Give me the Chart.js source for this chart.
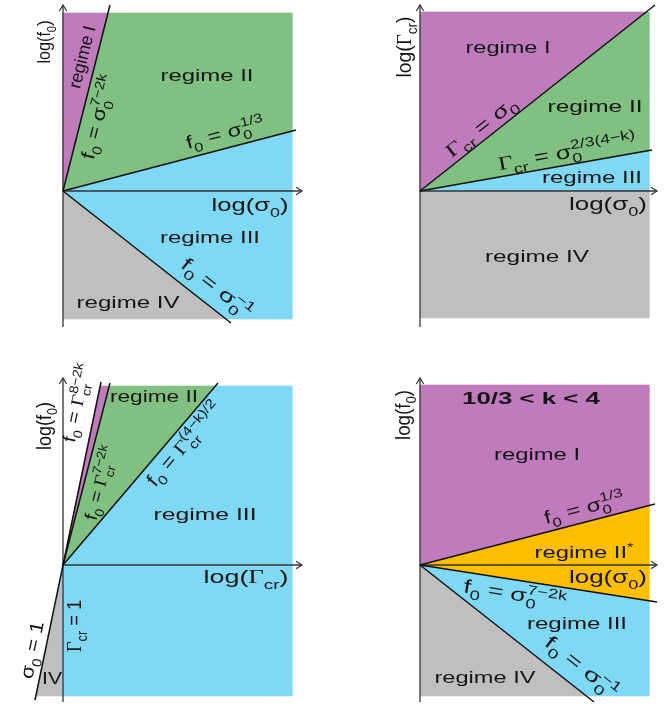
<!DOCTYPE html>
<html>
<head>
<meta charset="utf-8">
<script src="https://cdn.jsdelivr.net/npm/chart.js@4.4.0/dist/chart.umd.min.js"></script>
<style>
html, body { margin: 0; padding: 0; background: #fff; }
#wrap { position: relative; width: 664px; height: 708px; }
canvas { position: absolute; }
</style>
</head>
<body>
<div id="wrap">
  <canvas id="tl" width="332" height="350" style="left:0;top:0"></canvas>
  <canvas id="tr" width="332" height="350" style="left:332px;top:0"></canvas>
  <canvas id="bl" width="332" height="358" style="left:0;top:350px"></canvas>
  <canvas id="br" width="332" height="358" style="left:332px;top:350px"></canvas>
</div>
<script>
const PURPLE = '#bf7bbc', GREEN = '#80c080', CYAN = '#80d9f4', GREY = '#bfbfbf', ORANGE = '#ffbf00';

// all points in schematic log units, origin = axes crossing

// TOP LEFT : log(f0) vs log(sigma0)
const tlPurple = [[0,0],[0,178],[45,178]];
const tlGreen  = [[0,0],[45,178],[229,178],[229,60]];
const tlCyan   = [[0,0],[229,60],[229,-128],[163,-128]];
const tlGrey   = [[0,0],[163,-128],[0,-128]];
const tlLines  = [[[0,0],[47,186]], [[0,0],[233,61]], [[0,0],[168,-132]]];
const tlAxes   = [[[0,-136],[0,186]], [[0,0],[239,0]]];

// TOP RIGHT : log(Gamma_cr) vs log(sigma0)
const trPurple = [[0,0],[0,179],[226,179]];
const trGreen  = [[0,0],[226,179],[229,179],[229,40]];
const trCyan   = [[0,0],[229,40],[229,0]];
const trGrey   = [[0,0],[229,0],[229,-127],[0,-127]];
const trLines  = [[[0,0],[235,186]], [[0,0],[232,41]]];
const trAxes   = [[[0,-136],[0,186]], [[0,0],[237,0]]];

// BOTTOM LEFT : log(f0) vs log(Gamma_cr)
const blPurple = [[0,0],[37,179],[46,179]];
const blGreen  = [[0,0],[46,179],[152,179]];
const blCyan   = [[0,0],[152,179],[229,179],[229,-131],[0,-131]];
const blGrey   = [[0,0],[0,-131],[-27,-131]];
const blLines  = [[[-28,-135],[38,183]], [[0,0],[47,182]], [[0,0],[155,182]]];
const blAxes   = [[[0,-137],[0,187]], [[0,0],[239,0]]];

// BOTTOM RIGHT : 10/3 < k < 4
const brPurple = [[0,0],[0,180],[229,180],[229,59]];
const brOrange = [[0,0],[229,59],[229,-36]];
const brCyan   = [[0,0],[229,-36],[229,-131],[166,-131]];
const brGrey   = [[0,0],[166,-131],[0,-131]];
const brLines  = [[[0,0],[235,61]], [[0,0],[237,-37]], [[0,0],[174,-137]]];
const brAxes   = [[[0,-137],[0,187]], [[0,0],[237,0]]];

const pts = a => a.map(([x, y]) => ({x, y}));
const FAM = '"Liberation Sans", Arial, sans-serif';

// tiny parser: _{..} subscript, ^{..} superscript (stacked over a subscript)
function richTokens(s) {
  const out = [];
  let i = 0, buf = '';
  const flush = () => { if (buf) { out.push({t: buf, k: 'n'}); buf = ''; } };
  while (i < s.length) {
    const c = s[i];
    if ((c === '_' || c === '^') && s[i + 1] === '{') {
      flush();
      const j = s.indexOf('}', i);
      out.push({t: s.slice(i + 2, j), k: c === '_' ? 'b' : 'p'});
      i = j + 1;
    } else if (c === 'Γ') {
      flush();
      out.push({t: c, k: 'n', serif: true});
      i++;
    } else { buf += c; i++; }
  }
  flush();
  return out;
}

function drawLabel(ctx, L, px, py, ang) {
  const toks = richTokens(L.s);
  const fontFor = tk => (L.bold ? 'bold ' : '') + (tk.k === 'n' ? L.size : L.size * 0.7) + 'px ' +
    (tk.serif ? '"Liberation Serif", serif' : FAM);
  let x = 0, sub = null;
  const placed = [];
  for (const tk of toks) {
    ctx.font = fontFor(tk);
    const w = ctx.measureText(tk.t).width;
    if (tk.k === 'p' && sub) {
      placed.push({tk, x: sub.x, dy: -0.42 * L.size});
      x = sub.x + Math.max(sub.w, w);
      sub = null;
    } else if (tk.k === 'b') {
      placed.push({tk, x, dy: 0.3 * L.size});
      sub = {x, w};
      x += w;
    } else {
      placed.push({tk, x, dy: tk.k === 'p' ? -0.42 * L.size : 0});
      sub = null;
      x += w;
    }
  }
  const total = x;
  ctx.save();
  ctx.translate(px, py);
  ctx.rotate(ang);
  ctx.scale(L.len ? L.len / total : 1, 1);
  ctx.fillStyle = '#151515';
  ctx.textBaseline = 'alphabetic';
  ctx.textAlign = 'left';
  const base = L.base ? 0 : 0.33 * L.size;
  for (const p of placed) {
    ctx.font = fontFor(p.tk);
    ctx.fillText(p.tk.t, p.x - total / 2, p.dy + base);
  }
  ctx.restore();
}

function makePanel(id, view, regions, lines, axes, labels) {
  const datasets = [];
  regions.forEach(([poly, color]) => datasets.push({
    data: pts(poly), fill: 'shape', backgroundColor: color,
    borderColor: color, borderWidth: 0.6, pointRadius: 0, order: 5
  }));
  axes.forEach(a => datasets.push({
    data: pts(a), fill: false, borderColor: '#333', borderWidth: 1.3, pointRadius: 0, order: 2
  }));
  lines.forEach(l => datasets.push({
    data: pts(l), fill: false, borderColor: '#111', borderWidth: 1.5, pointRadius: 0, order: 1
  }));

  const decor = {
    id: 'decor',
    afterDatasetsDraw(chart) {
      const {ctx, scales: {x: sx, y: sy}} = chart;
      const P = ([a, b]) => [sx.getPixelForValue(a), sy.getPixelForValue(b)];
      // arrow heads
      ctx.save();
      ctx.strokeStyle = '#333';
      ctx.lineWidth = 1.2;
      axes.forEach(a => {
        const [x0, y0] = P(a[0]), [x1, y1] = P(a[1]);
        const t = Math.atan2(y1 - y0, x1 - x0);
        ctx.beginPath();
        ctx.moveTo(x1 - 7 * Math.cos(t - 0.55), y1 - 7 * Math.sin(t - 0.55));
        ctx.lineTo(x1, y1);
        ctx.lineTo(x1 - 7 * Math.cos(t + 0.55), y1 - 7 * Math.sin(t + 0.55));
        ctx.stroke();
      });
      ctx.restore();
      labels.forEach(L => {
        const [px, py] = P([L.x, L.y]);
        let ang = (L.ang || 0) * Math.PI / 180;
        if (L.line !== undefined) {
          const [x0, y0] = P(lines[L.line][0]), [x1, y1] = P(lines[L.line][1]);
          ang = Math.atan2(y1 - y0, x1 - x0);
        }
        drawLabel(ctx, L, px, py, ang);
      });
    }
  };

  return new Chart(document.getElementById(id), {
    type: 'line',
    data: {datasets},
    options: {
      responsive: false,
      animation: false,
      events: [],
      layout: {padding: 0},
      elements: {line: {tension: 0}, point: {radius: 0}},
      scales: {
        x: {type: 'linear', display: false, min: view[0], max: view[1]},
        y: {type: 'linear', display: false, min: view[2], max: view[3]}
      },
      plugins: {legend: {display: false}, tooltip: {enabled: false}}
    },
    plugins: [decor]
  });
}

makePanel('tl', [-63, 269, -159, 191],
  [[tlPurple, PURPLE], [tlGreen, GREEN], [tlCyan, CYAN], [tlGrey, GREY]],
  tlLines, tlAxes, [
    {s: 'log(f_{0})', x: -19, y: 149, size: 19, len: 43, ang: -90},
    {s: 'regime I', x: 19, y: 134, size: 18, len: 64, line: 0},
    {s: 'f_{0} = σ_{0}^{7−2k}', x: 35, y: 74, size: 19, len: 86, line: 0},
    {s: 'regime II', x: 144, y: 110, size: 16, len: 93, base: true},
    {s: 'f_{0} = σ_{0}^{1/3}', x: 162, y: 58, size: 18, len: 80, line: 1},
    {s: 'log(σ_{0})', x: 187, y: -20, size: 19, len: 77, base: true},
    {s: 'regime III', x: 147, y: -52, size: 16, len: 100, base: true},
    {s: 'f_{0} = σ_{0}^{−1}', x: 154, y: -97, size: 19, len: 85, line: 2},
    {s: 'regime IV', x: 65, y: -117, size: 16, len: 103, base: true}
  ]);

makePanel('tr', [-88, 244, -159, 191],
  [[trPurple, PURPLE], [trGreen, GREEN], [trCyan, CYAN], [trGrey, GREY]],
  trLines, trAxes, [
    {s: 'log(Γ_{cr})', x: -16, y: 144, size: 20, len: 61, ang: -90},
    {s: 'regime I', x: 88, y: 138, size: 16, len: 85, base: true},
    {s: 'regime II', x: 175, y: 79, size: 16, len: 95, base: true},
    {s: 'Γ_{cr} = σ_{0}', x: 61, y: 64, size: 19, len: 85, line: 0},
    {s: 'Γ_{cr} = σ_{0}^{2/3(4−k)}', x: 147, y: 39, size: 19, len: 140, line: 1},
    {s: 'regime III', x: 172, y: 8, size: 16, len: 100, base: true},
    {s: 'log(σ_{0})', x: 188, y: -19, size: 19, len: 78, base: true},
    {s: 'regime IV', x: 117, y: -71, size: 16, len: 104, base: true}
  ]);

makePanel('bl', [-63, 269, -143, 215],
  [[blPurple, PURPLE], [blGreen, GREEN], [blCyan, CYAN], [blGrey, GREY]],
  blLines, blAxes, [
    {s: 'log(f_{0})', x: -19, y: 139, size: 20, len: 48, ang: -90},
    {s: 'f_{0} = Γ_{cr}^{8−2k}', x: 14, y: 162, size: 18, len: 80, line: 0},
    {s: 'f_{0} = Γ_{cr}^{7−2k}', x: 37, y: 82, size: 18, len: 76, line: 1},
    {s: 'regime II', x: 91, y: 163, size: 16, len: 88, base: true},
    {s: 'f_{0} = Γ_{cr}^{(4−k)/2}', x: 121, y: 121, size: 19, len: 104, line: 2},
    {s: 'regime III', x: 142, y: 45, size: 16, len: 103, base: true},
    {s: 'log(Γ_{cr})', x: 183, y: -18, size: 19, len: 85, base: true},
    {s: 'Γ_{cr} = 1', x: 11, y: -61, size: 20, len: 52, ang: -90},
    {s: 'σ_{0} = 1', x: -31, y: -85, size: 19, len: 58, line: 0},
    {s: 'IV', x: -11, y: -119, size: 16, len: 20, base: true}
  ]);

makePanel('br', [-88, 244, -143, 215],
  [[brPurple, PURPLE], [brOrange, ORANGE], [brCyan, CYAN], [brGrey, GREY]],
  brLines, brAxes, [
    {s: 'log(f_{0})', x: -17, y: 150, size: 20, len: 50, ang: -90},
    {s: '10/3 < k < 4', x: 111, y: 161, size: 17, len: 138, bold: true, base: true},
    {s: 'regime I', x: 117, y: 105, size: 16, len: 86, base: true},
    {s: 'f_{0} = σ_{0}^{1/3}', x: 164, y: 57, size: 18, len: 82, line: 0},
    {s: 'regime II^{*}', x: 164, y: 7, size: 16, len: 99, base: true},
    {s: 'log(σ_{0})', x: 188, y: -18, size: 19, len: 78, base: true},
    {s: 'f_{0} = σ_{0}^{7−2k}', x: 95, y: -29, size: 19, len: 104, line: 1},
    {s: 'regime III', x: 157, y: -64, size: 16, len: 100, base: true},
    {s: 'f_{0} = σ_{0}^{−1}', x: 162, y: -102, size: 19, len: 88, line: 2},
    {s: 'regime IV', x: 65, y: -118, size: 16, len: 101, base: true}
  ]);
</script>
</body>
</html>
